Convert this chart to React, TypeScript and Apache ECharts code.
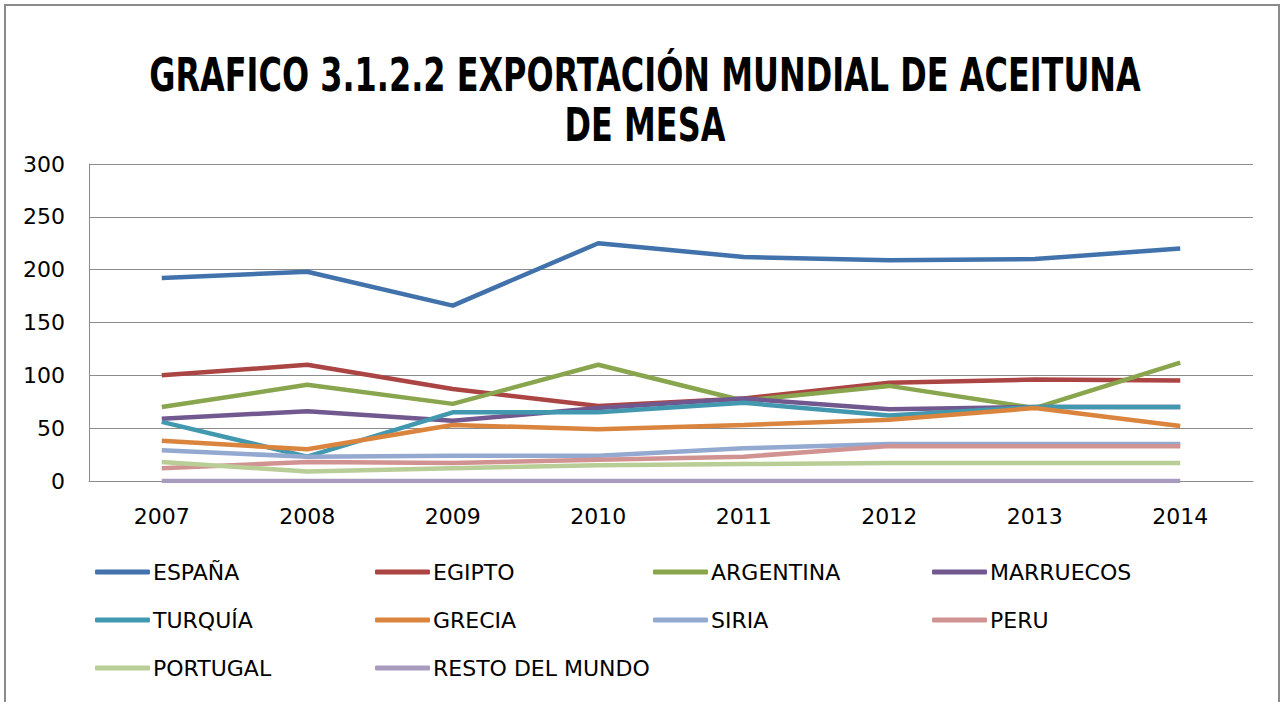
import React, { useEffect, useRef } from "react";
import * as echarts from "echarts";

const years = ["2007", "2008", "2009", "2010", "2011", "2012", "2013", "2014"];
const espana = [192, 198, 166, 225, 212, 209, 210, 220];
const egipto = [100, 110, 87, 71, 78, 93, 96, 95];
const argentina = [70, 91, 73, 110, 76, 90, 69, 112];
const marruecos = [59, 66, 57, 69, 78, 68, 70, 70];
const turquia = [56, 23, 65, 65, 74, 62, 70, 70];
const grecia = [38, 30, 53, 49, 53, 58, 69, 52];
const siria = [29, 23, 24, 24, 31, 35, 35, 35];
const peru = [12, 18, 17, 20, 23, 33, 33, 33];
const portugal = [18, 9, 12, 15, 16, 17, 17, 17];
const resto = [0, 0, 0, 0, 0, 0, 0, 0];

const seriesNames = ["ESPAÑA", "EGIPTO", "ARGENTINA", "MARRUECOS", "TURQUÍA", "GRECIA", "SIRIA", "PERU", "PORTUGAL", "RESTO DEL MUNDO"];
const seriesData = [espana, egipto, argentina, marruecos, turquia, grecia, siria, peru, portugal, resto];
const colors = ["#4272ab", "#ab4543", "#89a54e", "#71588f", "#4198af", "#db843d", "#93a9cf", "#d19392", "#b9cd96", "#a99bbd"];
const yTicks = { min: 0, max: 300, interval: 50 };
const titleLines = ["GRAFICO 3.1.2.2 EXPORTACIÓN MUNDIAL DE ACEITUNA", "DE MESA"];

const FONT = "'DejaVu Sans', sans-serif";
const legendCols = [95, 375, 653, 932];
const legendRowsTop = [561, 609, 657];

export default function App() {
  const ref = useRef<HTMLDivElement>(null);
  useEffect(() => {
    document.body.style.margin = "0";
    const chart = echarts.init(ref.current!, null, { renderer: "svg" });
    chart.setOption({
      animation: false,
      backgroundColor: "#ffffff",
      color: colors,
      graphic: [
        {
          type: "polyline",
          shape: { points: [[5, 702], [5, 5], [1279, 5], [1279, 702]] },
          style: { stroke: "#8a8a8a", lineWidth: 2, fill: "none" },
          silent: true,
        },
        ...titleLines.map((t, i) => ({
          type: "text",
          x: 645,
          y: 75 + i * 50,
          scaleX: 0.68,
          silent: true,
          style: {
            text: t,
            fontFamily: FONT,
            fontWeight: "bold",
            fontSize: 47,
            fill: "#000",
            textAlign: "center",
            textVerticalAlign: "middle",
          },
        })),
      ],
      grid: { left: 89, right: 34, top: 164, bottom: 221, containLabel: false },
      xAxis: {
        type: "category",
        data: years,
        boundaryGap: true,
        axisLine: { lineStyle: { color: "#8c8c8c", width: 1 } },
        axisTick: { show: false },
        axisLabel: { fontFamily: FONT, fontSize: 22, color: "#000", margin: 24 },
      },
      yAxis: {
        type: "value",
        min: yTicks.min,
        max: yTicks.max,
        interval: yTicks.interval,
        axisLine: { show: true, lineStyle: { color: "#8c8c8c", width: 1 } },
        axisTick: { show: false },
        axisLabel: { fontFamily: FONT, fontSize: 22, color: "#000", margin: 24 },
        splitLine: { lineStyle: { color: "#8c8c8c", width: 1 } },
      },
      legend: seriesNames.map((name, i) => ({
        data: [name],
        left: legendCols[i % 4],
        top: legendRowsTop[Math.floor(i / 4)],
        padding: 0,
        icon: "roundRect",
        itemWidth: 55,
        itemHeight: 5,
        selectedMode: false,
        textStyle: { fontFamily: FONT, fontSize: 22, color: "#000", padding: [0, 0, 0, -2] },
      })),
      series: seriesNames.map((name, i) => ({
        name,
        type: "line",
        data: seriesData[i],
        symbol: "none",
        lineStyle: { width: 4.5, color: colors[i] },
        itemStyle: { color: colors[i] },
      })),
    });
    return () => chart.dispose();
  }, []);
  return <div ref={ref} style={{ width: 1287, height: 702 }} />;
}
